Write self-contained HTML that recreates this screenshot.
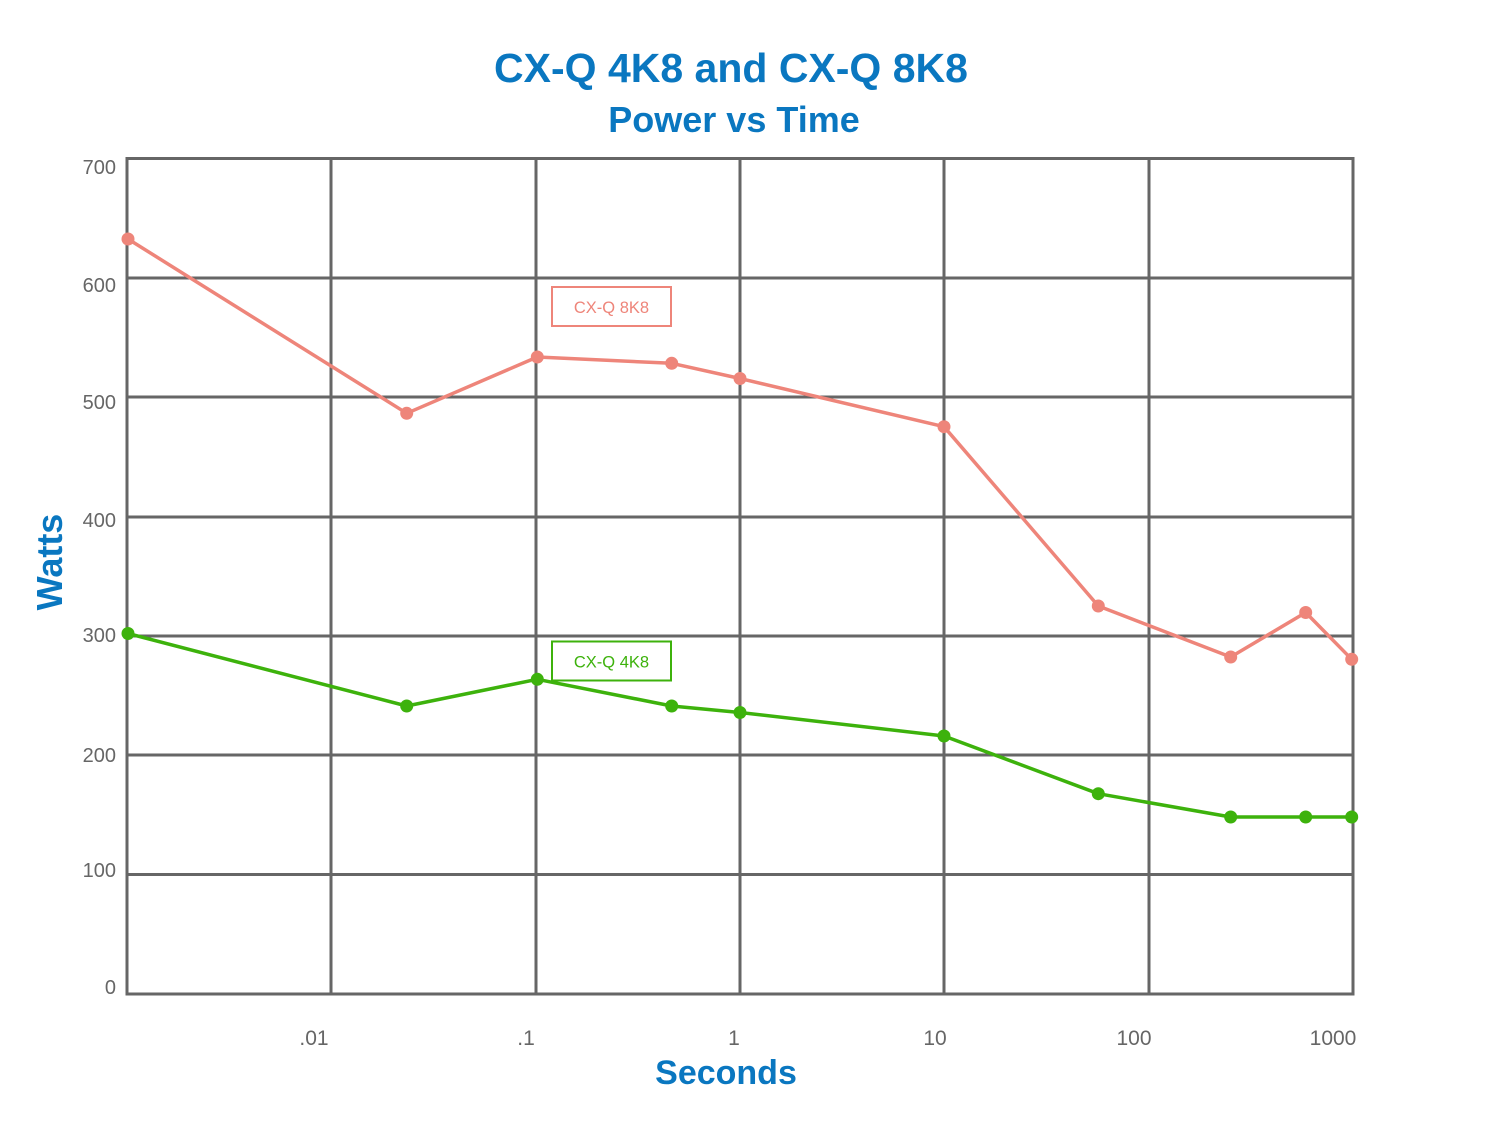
<!DOCTYPE html>
<html>
<head>
<meta charset="utf-8">
<style>
html,body{margin:0;padding:0;background:#fff;}
svg{display:block;}
text{font-family:"Liberation Sans",sans-serif;}
</style>
</head>
<body>
<svg width="1500" height="1125" viewBox="0 0 1500 1125" xmlns="http://www.w3.org/2000/svg">
<rect width="1500" height="1125" fill="#fff"/>
<!-- Title -->
<text x="731" y="82" text-anchor="middle" font-size="41" font-weight="bold" fill="#0a77c0">CX-Q 4K8 and CX-Q 8K8</text>
<text x="734" y="132" text-anchor="middle" font-size="36" font-weight="bold" fill="#0a77c0">Power vs Time</text>
<!-- Grid -->
<g stroke="#666" stroke-width="3" fill="none">
<line x1="127" y1="278" x2="1353" y2="278"/>
<line x1="127" y1="397" x2="1353" y2="397"/>
<line x1="127" y1="517" x2="1353" y2="517"/>
<line x1="127" y1="636" x2="1353" y2="636"/>
<line x1="127" y1="755" x2="1353" y2="755"/>
<line x1="127" y1="874.5" x2="1353" y2="874.5"/>
<line x1="331" y1="158" x2="331" y2="994"/>
<line x1="536" y1="158" x2="536" y2="994"/>
<line x1="740" y1="158" x2="740" y2="994"/>
<line x1="944" y1="158" x2="944" y2="994"/>
<line x1="1149" y1="158" x2="1149" y2="994"/>
<rect x="127" y="158.5" width="1226" height="835.5"/>
</g>
<!-- Y labels -->
<g font-size="20" fill="#666" text-anchor="end">
<text x="116" y="174">700</text>
<text x="116" y="292">600</text>
<text x="116" y="409">500</text>
<text x="116" y="527">400</text>
<text x="116" y="642">300</text>
<text x="116" y="762">200</text>
<text x="116" y="877">100</text>
<text x="116" y="994">0</text>
</g>
<!-- X labels -->
<g font-size="21" fill="#666" text-anchor="middle">
<text x="314" y="1045">.01</text>
<text x="526" y="1045">.1</text>
<text x="734" y="1045">1</text>
<text x="935" y="1045">10</text>
<text x="1134" y="1045">100</text>
<text x="1333" y="1045">1000</text>
</g>
<!-- Axis titles -->
<text x="726" y="1084" text-anchor="middle" font-size="34" font-weight="bold" fill="#0a77c0">Seconds</text>
<text transform="translate(62,562) rotate(-90)" text-anchor="middle" font-size="36" font-weight="bold" fill="#0a77c0">Watts</text>
<!-- Red series -->
<polyline fill="none" stroke="#ee857a" stroke-width="3.5" stroke-linejoin="round" points="128,239 406.7,413.3 537.3,357 671.7,363.3 740,378.5 944,426.7 1098.3,606 1230.7,657 1305.7,612.5 1351.7,659.3"/>
<g fill="#ee857a">
<circle cx="128" cy="239" r="6.5"/>
<circle cx="406.7" cy="413.3" r="6.5"/>
<circle cx="537.3" cy="357" r="6.5"/>
<circle cx="671.7" cy="363.3" r="6.5"/>
<circle cx="740" cy="378.5" r="6.5"/>
<circle cx="944" cy="426.7" r="6.5"/>
<circle cx="1098.3" cy="606" r="6.5"/>
<circle cx="1230.7" cy="657" r="6.5"/>
<circle cx="1305.7" cy="612.5" r="6.5"/>
<circle cx="1351.7" cy="659.3" r="6.5"/>
</g>
<!-- Green series -->
<polyline fill="none" stroke="#3db20c" stroke-width="3.5" stroke-linejoin="round" points="128,633.5 406.7,706 537.3,679.3 671.7,706 740,712.5 944,736 1098.3,793.7 1230.7,817 1305.7,817 1351.7,817"/>
<g fill="#3db20c">
<circle cx="128" cy="633.5" r="6.5"/>
<circle cx="406.7" cy="706" r="6.5"/>
<circle cx="537.3" cy="679.3" r="6.5"/>
<circle cx="671.7" cy="706" r="6.5"/>
<circle cx="740" cy="712.5" r="6.5"/>
<circle cx="944" cy="736" r="6.5"/>
<circle cx="1098.3" cy="793.7" r="6.5"/>
<circle cx="1230.7" cy="817" r="6.5"/>
<circle cx="1305.7" cy="817" r="6.5"/>
<circle cx="1351.7" cy="817" r="6.5"/>
</g>
<!-- Labels -->
<rect x="552" y="287" width="119" height="39" fill="#fff" stroke="#ee857a" stroke-width="2"/>
<text x="611.5" y="313" text-anchor="middle" font-size="16.5" fill="#ee857a">CX-Q 8K8</text>
<rect x="552" y="641.5" width="119" height="39" fill="#fff" stroke="#3db20c" stroke-width="2"/>
<text x="611.5" y="667.5" text-anchor="middle" font-size="16.5" fill="#3db20c">CX-Q 4K8</text>
</svg>
</body>
</html>
